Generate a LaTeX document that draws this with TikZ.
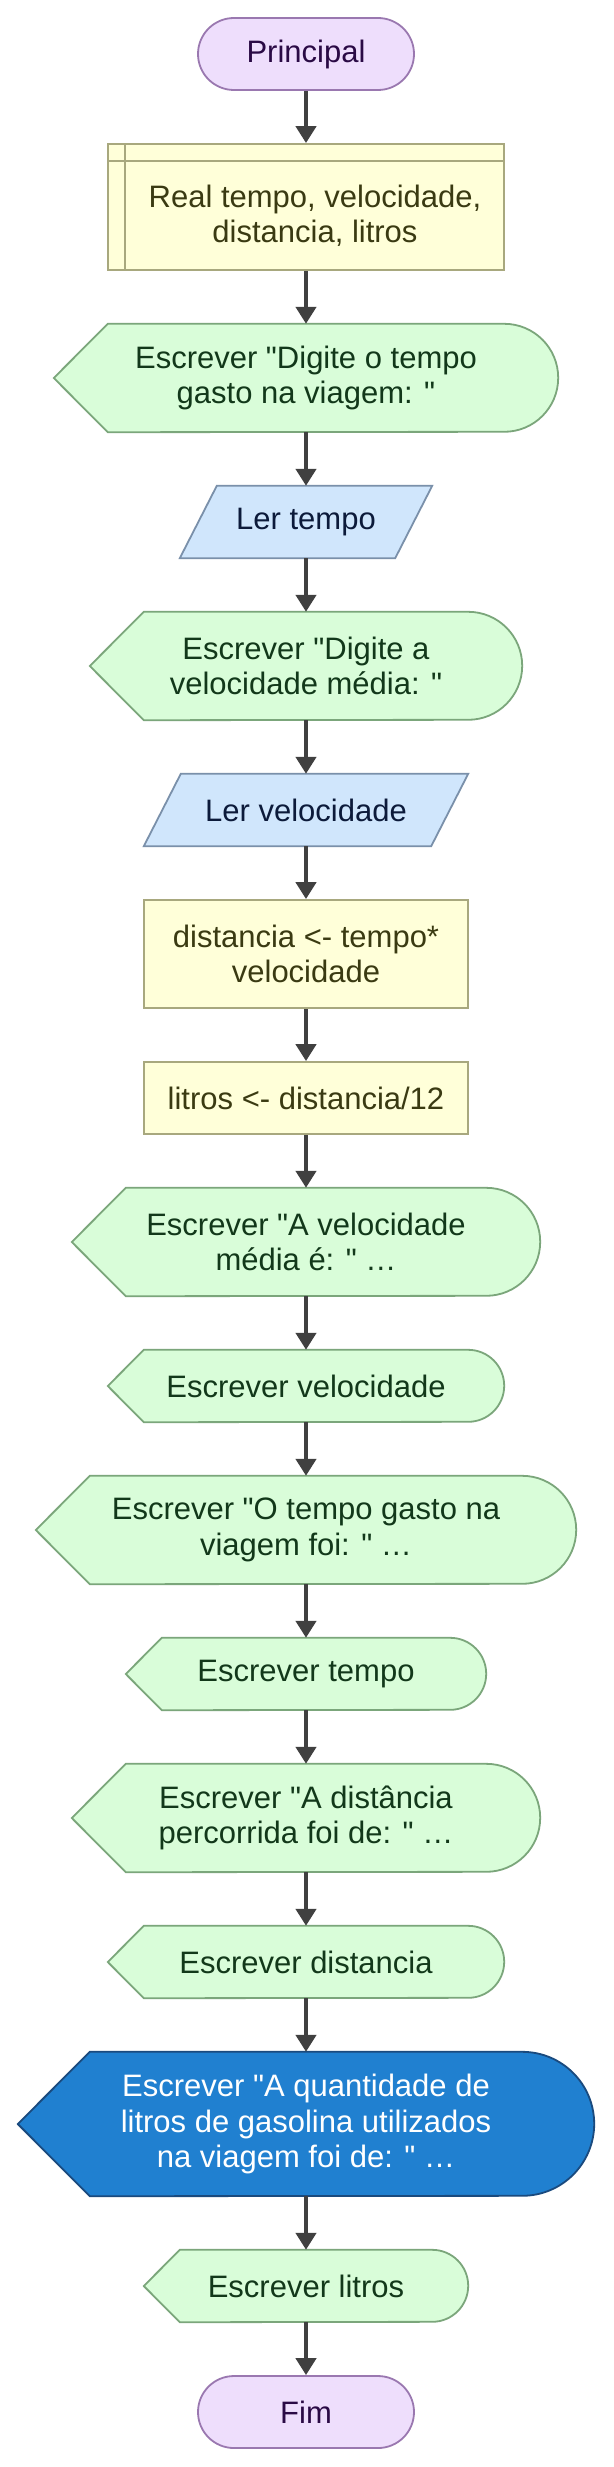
\documentclass[tikz,border=0pt]{standalone}
\usepackage{fontspec}
\setmainfont{Liberation Sans}[Ligatures=TeXOff]
\usetikzlibrary{arrows.meta,backgrounds}
\definecolor{termfill}{HTML}{EEDEFC}
\definecolor{termdraw}{HTML}{9A78B0}
\definecolor{termtext}{HTML}{2A0A45}
\definecolor{procfill}{HTML}{FFFFD9}
\definecolor{procdraw}{HTML}{A8A87E}
\definecolor{proctext}{HTML}{3A3A12}
\definecolor{outfill}{HTML}{D9FDD9}
\definecolor{outdraw}{HTML}{7BA67B}
\definecolor{outtext}{HTML}{12381A}
\definecolor{infill}{HTML}{D0E6FC}
\definecolor{indraw}{HTML}{7A90AA}
\definecolor{intext}{HTML}{0C1A3A}
\definecolor{bluefill}{HTML}{2080D0}
\definecolor{bluedraw}{HTML}{1A4A7E}
\definecolor{arrowcol}{HTML}{404040}
\newcommand\dispshape[3]{%
  \path[#3] (#1.north west) -- (#1.north east)
    arc[start angle=90,end angle=-90,radius=#2pt]
    -- (#1.south west) -- ([xshift=-#2pt]#1.west) -- cycle;}
\newcommand\parashape[3]{%
  \path[#3] ([xshift=#2pt]#1.north west) -- (#1.north east)
    -- ([xshift=-#2pt]#1.south east) -- (#1.south west) -- cycle;}
\begin{document}
\begin{tikzpicture}[x=1pt,y=-1pt,
  every node/.style={font=\fontsize{31}{35.5}\selectfont, align=center, inner sep=0pt},
  term/.style={draw=termdraw, fill=termfill, text=termtext, line width=1.8pt,
    rounded corners=36pt, minimum width=216pt, minimum height=72pt},
  proc/.style={draw=procdraw, fill=procfill, text=proctext, line width=1.8pt,
    minimum height=108pt},
  procline/.style={draw=procdraw, line width=1.8pt},
  outnode/.style={text=outtext},
  outshape/.style={draw=outdraw, fill=outfill, line width=1.8pt},
  innode/.style={text=intext, minimum height=72pt},
  inshape/.style={draw=indraw, fill=infill, line width=1.8pt},
  bluenode/.style={text=white},
  blueshape/.style={draw=bluedraw, fill=bluefill, line width=1.8pt},
  arr/.style={draw=arrowcol, line width=4.6pt, -{Triangle[width=20pt,length=17pt]}, fill=arrowcol}
]
\useasboundingbox (0,0) rectangle (613,2467);

\node[term] (p) at (306,54) {Principal};

\node[draw=procdraw, fill=procfill, line width=1.8pt, minimum width=396pt, minimum height=126pt] (real) at (306,207) {};
\draw[procline] ([yshift=-18pt]real.north west) -- ([yshift=-18pt]real.north east);
\draw[procline] ([xshift=18pt]real.north west) -- ([xshift=18pt]real.south west);
\node[text=proctext] (realtxt) at (315,216) {Real tempo, velocidade,\\ distancia, litros};

\node[outnode, minimum width=396pt, minimum height=108pt] (e1) at (306,378) {Escrever "Digite o tempo\\ gasto na viagem: "};
\node[innode, minimum width=252pt] (lt) at (306,522) {Ler tempo};
\node[outnode, minimum width=324pt, minimum height=108pt] (e2) at (306,666) {Escrever "Digite a\\ velocidade média: "};
\node[innode, minimum width=324pt] (lv) at (306,810) {Ler velocidade};
\node[proc, minimum width=324pt] (dist) at (306,954) {distancia <- tempo*\\ velocidade};
\node[proc, minimum width=324pt, minimum height=72pt] (lit) at (306,1098) {litros <- distancia/12};
\node[outnode, minimum width=360pt, minimum height=108pt] (e3) at (306,1242) {Escrever "A velocidade\\ média é: " …};
\node[outnode, minimum width=324pt, minimum height=72pt] (evel) at (306,1386) {Escrever velocidade};
\node[outnode, minimum width=432pt, minimum height=108pt] (e4) at (306,1530) {Escrever "O tempo gasto na\\ viagem foi: " …};
\node[outnode, minimum width=288pt, minimum height=72pt] (etem) at (306,1674) {Escrever tempo};
\node[outnode, minimum width=360pt, minimum height=108pt] (e5) at (306,1818) {Escrever "A distância\\ percorrida foi de: " …};
\node[outnode, minimum width=324pt, minimum height=72pt] (edist) at (306,1962) {Escrever distancia};
\node[bluenode, minimum width=432pt, minimum height=144pt] (eblue) at (306,2124) {Escrever "A quantidade de\\ litros de gasolina utilizados\\ na viagem foi de: " …};
\node[outnode, minimum width=252pt, minimum height=72pt] (elit) at (306,2286) {Escrever litros};
\node[term] (fim) at (306,2412) {Fim};

\begin{pgfonlayer}{background}
\fill[white] (0,0) rectangle (613,2467);
\dispshape{e1}{54}{outshape}
\parashape{lt}{37}{inshape}
\dispshape{e2}{54}{outshape}
\parashape{lv}{37}{inshape}
\dispshape{e3}{54}{outshape}
\dispshape{evel}{36}{outshape}
\dispshape{e4}{54}{outshape}
\dispshape{etem}{36}{outshape}
\dispshape{e5}{54}{outshape}
\dispshape{edist}{36}{outshape}
\dispshape{eblue}{72}{blueshape}
\dispshape{elit}{36}{outshape}
\end{pgfonlayer}

\draw[arr] (p.south) -- (real.north);
\draw[arr] (real.south) -- (e1.north);
\draw[arr] (e1.south) -- (lt.north);
\draw[arr] (lt.south) -- (e2.north);
\draw[arr] (e2.south) -- (lv.north);
\draw[arr] (lv.south) -- (dist.north);
\draw[arr] (dist.south) -- (lit.north);
\draw[arr] (lit.south) -- (e3.north);
\draw[arr] (e3.south) -- (evel.north);
\draw[arr] (evel.south) -- (e4.north);
\draw[arr] (e4.south) -- (etem.north);
\draw[arr] (etem.south) -- (e5.north);
\draw[arr] (e5.south) -- (edist.north);
\draw[arr] (edist.south) -- (eblue.north);
\draw[arr] (eblue.south) -- (elit.north);
\draw[arr] (elit.south) -- (fim.north);
\end{tikzpicture}
\end{document}
